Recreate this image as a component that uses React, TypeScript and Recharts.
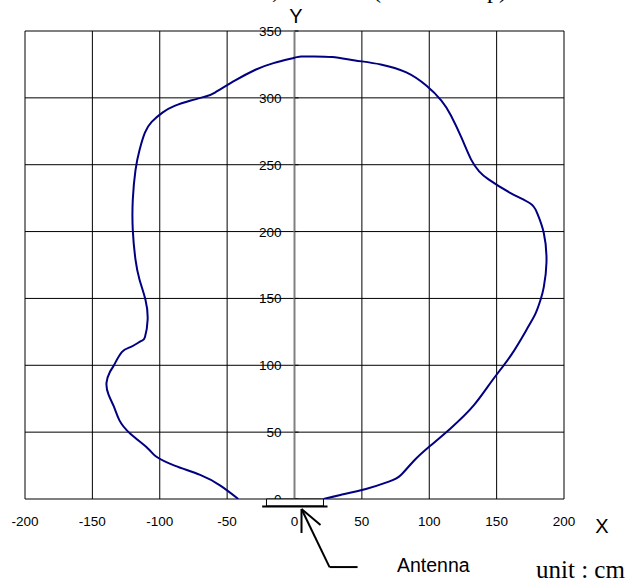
import { LineChart, Line, XAxis, YAxis, CartesianGrid, ReferenceLine, ReferenceArea } from 'recharts'

// read range contour (cm), traced from the left foot round the top to the right foot
const curveX = [
  -41.7, -55, -70, -89, -103, -109, -122, -130, -134, -138, -139.5, -137, -134, -128, -121, -114, -111,
  -109, -110.6, -115, -118, -120, -120, -118, -115, -111, -106, -98, -89, -77, -66, -59, -44, -29,
  -15.6, 0, 5, 14, 28, 45, 64, 83, 98, 109, 116, 124, 131, 137, 144, 160, 175, 180, 185, 187, 185,
  182.6, 179, 173, 161, 147, 133, 116, 101, 89, 79, 70, 53, 34, 21.6,
]
const curveY = [
  0, 10, 18, 25, 32, 38, 49, 59, 69, 78, 87, 95, 100, 110, 114, 118, 121,
  134, 149, 164, 179, 201, 224, 246, 261, 274, 282, 289, 294, 298, 301, 304, 313, 321,
  326, 330, 331, 331, 330.5, 328, 325, 319, 309, 298, 287, 270, 254, 245, 239, 229, 221, 214, 199, 177, 158.5,
  149, 139, 128, 108, 89, 70, 53, 40, 29, 18, 13, 7.5, 3, 0,
]

const xTicks = [-200, -150, -100, -50, 0, 50, 100, 150, 200]
const yTicks = [0, 50, 100, 150, 200, 250, 300, 350]

// antenna symbol and pointer, in chart units
const antennaBox = { x1: -20.8, x2: 21.5, y1: -5.2, y2: 0 }
const antennaBase = [{ x: -24, y: -5.6 }, { x: 24.5, y: -5.6 }]
const arrowLines = [
  [{ x: 5.2, y: -7.5 }, { x: 5.2, y: -25.4 }],
  [{ x: 5.2, y: -7.5 }, { x: 19.3, y: -19.4 }],
  [{ x: 5.2, y: -7.5 }, { x: 26, y: -50.9 }],
  [{ x: 26, y: -50.9 }, { x: 46.8, y: -50.9 }],
]

const data = curveX.map((x, i) => ({ x, y: curveY[i] }))

const W = 631
const H = 581
const margin = { top: 31, right: 67, bottom: 62, left: 25 }
const SANS = '"Liberation Sans", Arial, sans-serif'
const SERIF = '"Liberation Serif", "Times New Roman", serif'

function XTick({ x, y, payload }: any) {
  return (
    <text x={x} y={y + 27} textAnchor="middle" fontFamily={SANS} fontSize={13.5} fill="#000">
      {payload.value}
    </text>
  )
}

// y labels sit beside the x = 0 axis, not at the plot edge
function yLabel(value: number) {
  return ({ viewBox }: any) => (
    <text x={viewBox.x - 13} y={viewBox.y + 5} textAnchor="end" fontFamily={SANS} fontSize={13.5} fill="#000">
      {value}
    </text>
  )
}

export default function App() {
  return (
    <div style={{ position: 'absolute', left: 0, top: 0, width: W, height: H, background: '#fff' }}>
      <LineChart width={W} height={H} data={data} margin={margin}>
        <CartesianGrid stroke="#000" strokeWidth={1} horizontalValues={yTicks} verticalValues={xTicks} />
        <XAxis
          type="number"
          dataKey="x"
          domain={[-200, 200]}
          ticks={xTicks}
          height={20}
          axisLine={false}
          tickLine={false}
          tickSize={0}
          tickMargin={0}
          tick={<XTick />}
          allowDataOverflow
        />
        <YAxis type="number" domain={[0, 350]} ticks={yTicks} width={0} hide allowDataOverflow />
        <ReferenceLine x={0} stroke="#808080" strokeWidth={2} />
        {yTicks.map((v) => (
          <ReferenceLine
            key={'yt' + v}
            segment={[{ x: 0, y: v }, { x: 3, y: v }]}
            stroke="#000"
            strokeWidth={1}
            ifOverflow="visible"
            label={yLabel(v)}
          />
        ))}
        <Line
          type="natural"
          dataKey="y"
          stroke="#000080"
          strokeWidth={2}
          dot={false}
          activeDot={false}
          isAnimationActive={false}
        />
        <ReferenceArea
          x1={antennaBox.x1}
          x2={antennaBox.x2}
          y1={antennaBox.y1}
          y2={antennaBox.y2}
          fill="#fff"
          fillOpacity={1}
          stroke="#000"
          strokeWidth={1}
          ifOverflow="visible"
          zIndex={2500}
        />
        <ReferenceLine segment={antennaBase} stroke="#000" strokeWidth={2} ifOverflow="visible" zIndex={2600} />
        {arrowLines.map((seg, i) => (
          <ReferenceLine key={i} segment={seg} stroke="#000" strokeWidth={2} ifOverflow="visible" zIndex={2600} />
        ))}
      </LineChart>
      <svg width={W} height={H} style={{ position: 'absolute', left: 0, top: 0, pointerEvents: 'none' }}>
        <text x={278} y={-2} textAnchor="end" fontFamily={SERIF} fontSize={24} fill="#000">
          Read Distance,
        </text>
        <text x={373} y={-2} fontFamily={SERIF} fontSize={24} fill="#000">
          (Antenna top)
        </text>
        <text x={296} y={23} textAnchor="middle" fontFamily={SANS} fontSize={20} fill="#000">
          Y
        </text>
        <text x={602} y={533} textAnchor="middle" fontFamily={SANS} fontSize={20} fill="#000">
          X
        </text>
        <text x={397} y={572} fontFamily={SANS} fontSize={19.5} fill="#000">
          Antenna
        </text>
        <text x={536} y={578} fontFamily={SERIF} fontSize={25} fill="#000">
          unit : cm
        </text>
      </svg>
    </div>
  )
}
